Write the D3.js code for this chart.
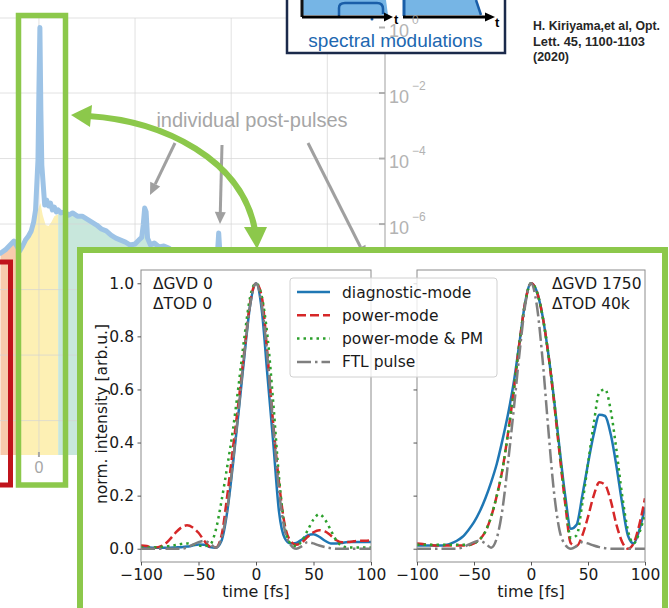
<!DOCTYPE html>
<html><head><meta charset="utf-8">
<script src="https://cdn.jsdelivr.net/npm/d3@7"></script>
<style>body{margin:0;background:#fff;} svg{display:block;}</style>
</head><body>
<svg id="c" width="669" height="608"></svg>
<script>
// ===== Background (log) trace =====
const bgTime = [-4.0,-3.5,-3.0,-2.6,-2.3,-2.0,-1.7,-1.4,-1.1,-0.8,-0.55,-0.35,-0.2,-0.1,0.0,0.1,0.2,0.3,0.45,0.6,0.8,1.0,1.2,1.4,1.6,1.8,2.0,2.3,2.7,3.1,3.5,4.0,4.5,5.0,5.5,6.0,6.5,7.0,7.5,8.0,8.5,9.0,9.5,10.0,10.4,10.7,10.85,11.0,11.15,11.3,11.6,12.0,12.5,13.0,13.5,14.0,14.5,15.0,16,17,18,18.55,18.7,18.85,19.2,20,22,24,26,28,30,32,34,36];
const bgLog = [-6.89,-6.79,-6.64,-6.52,-6.67,-6.82,-6.67,-6.49,-6.37,-6.21,-5.94,-5.57,-4.66,-4.05,-1.9,0.0,-2.52,-4.2,-4.81,-5.42,-5.27,-5.45,-5.36,-5.57,-5.48,-5.63,-5.57,-5.66,-5.63,-5.73,-5.66,-5.76,-5.76,-5.85,-5.94,-6.03,-6.15,-6.21,-6.34,-6.43,-6.49,-6.55,-6.64,-6.61,-6.49,-6.40,-6.03,-5.51,-5.63,-6.43,-6.64,-6.58,-6.70,-6.67,-6.73,-6.85,-6.79,-6.95,-7.0,-7.05,-7.05,-7.0,-6.27,-7.0,-7.1,-7.1,-7.2,-7.25,-7.3,-7.35,-7.4,-7.45,-7.5,-7.55];
// fill envelope around the main pulse (t <= 2)
const envTime = [-4.0,-3.5,-3.0,-2.6,-2.3,-2.0,-1.7,-1.4,-1.1,-0.8,-0.5,-0.2,0.0,0.15,0.4,0.7,1.0,1.3,1.6,2.0];
const envLog = [-6.89,-6.79,-6.64,-6.52,-6.67,-6.82,-6.79,-6.61,-6.43,-6.27,-6.03,-5.63,-5.48,-5.36,-5.73,-6.03,-6.06,-5.94,-5.76,-5.69];
const regionBounds = [-4.05, -2.05, 2.0, 36];
const regionColors = ["#f8cbad", "#fdf0b4", "#c8e7dc"];
const bgYTickExp = [0, -2, -4, -6, -8, -10, -12];
const bgYLabelExp = [0, -2, -4, -6];
const bgXGrid = [0, 10, 20, 30];
const bgXTickLabels = ["0"];
const annotText = "individual post-pulses";

// ===== Inset: pulse shapes =====
const timeFs = [-100,-95,-90,-85,-80,-75,-70,-65,-60,-55,-50,-45,-40,-35,-30,-25,-20,-15,-10,-5,0,5,10,15,20,25,30,35,40,45,50,55,60,65,70,75,80,85,90,95,100];
const diagL  = [0.005,0.005,0.004,0.004,0.004,0.004,0.005,0.006,0.008,0.012,0.016,0.015,0.006,0.004,0.03,0.14,0.32,0.52,0.73,0.92,1.0,0.90,0.65,0.40,0.14,0.04,0.02,0.022,0.035,0.05,0.055,0.045,0.03,0.02,0.02,0.022,0.025,0.025,0.025,0.025,0.025];
const powerL = [0.012,0.01,0.004,0.006,0.015,0.035,0.06,0.08,0.088,0.08,0.06,0.03,0.008,0.005,0.05,0.2,0.38,0.56,0.75,0.93,1.0,0.95,0.73,0.47,0.25,0.09,0.03,0.015,0.025,0.045,0.062,0.07,0.065,0.05,0.032,0.024,0.025,0.028,0.03,0.03,0.032];
const pmL    = [0.005,0.005,0.005,0.006,0.008,0.01,0.014,0.018,0.02,0.016,0.012,0.01,0.015,0.07,0.18,0.31,0.45,0.62,0.8,0.95,1.0,0.95,0.8,0.55,0.27,0.08,0.02,0.01,0.03,0.07,0.11,0.13,0.11,0.07,0.03,0.01,0.005,0.005,0.005,0.005,0.005];
const ftl    = [0,0,0,0,0,0,0,0,0.005,0.015,0.025,0.03,0.02,0.004,0.04,0.15,0.33,0.53,0.74,0.92,1.0,0.92,0.72,0.46,0.22,0.07,0.015,0.0,0.01,0.025,0.02,0.012,0.006,0.002,0,0,0,0,0,0,0];
const diagR  = [0.012,0.012,0.012,0.012,0.012,0.014,0.02,0.03,0.045,0.07,0.10,0.14,0.19,0.25,0.32,0.41,0.51,0.63,0.78,0.93,1.0,0.97,0.88,0.74,0.57,0.38,0.2,0.075,0.09,0.2,0.32,0.43,0.505,0.5,0.43,0.31,0.17,0.05,0.02,0.07,0.155];
const powerR = [0.02,0.018,0.015,0.012,0.012,0.012,0.012,0.012,0.012,0.013,0.02,0.035,0.065,0.12,0.2,0.3,0.44,0.6,0.78,0.93,1.0,0.97,0.88,0.74,0.56,0.36,0.17,0.02,0.01,0.05,0.12,0.2,0.25,0.24,0.18,0.09,0.025,0.0,0.02,0.09,0.19];
const pmR    = [0.015,0.015,0.015,0.015,0.015,0.015,0.015,0.015,0.015,0.015,0.02,0.035,0.065,0.12,0.2,0.3,0.44,0.6,0.78,0.93,1.0,0.97,0.88,0.74,0.57,0.37,0.18,0.04,0.05,0.17,0.32,0.47,0.59,0.6,0.52,0.37,0.2,0.07,0.02,0.06,0.13];
const seriesNames = ["diagnostic-mode", "power-mode", "power-mode & PM", "FTL pulse"];
const yTickVals = [0.0, 0.2, 0.4, 0.6, 0.8, 1.0];
const xTickVals = [-100, -50, 0, 50, 100];
const panelNotes = [["ΔGVD 0", "ΔTOD 0"], ["ΔGVD 1750", "ΔTOD 40k"]];
const citation = ["H. Kiriyama,et al, Opt.", "Lett. 45, 1100-1103", "(2020)"];

// ===== styles =====
const seriesStyle = [
  {color: "#1f77b4", dash: null},
  {color: "#d62728", dash: "9,4"},
  {color: "#2ca02c", dash: "2.5,4"},
  {color: "#7f7f7f", dash: "14,4,2.5,4"}
];
const GREEN = "#8cc84b";
const GRAYTXT = "#a6a6a6";

const svg = d3.select("#c");
const defs = svg.append("defs");

// ---------- background chart ----------
const xBg = d3.scaleLinear().domain([-4.05, 36]).range([0, 385]);
const yBg = d3.scaleLog().domain([Math.pow(10, -13.05), Math.pow(10, 0.29)]).range([455, 18]);
const bgData = bgTime.map((t, i) => ({t, v: Math.pow(10, bgLog[i])}));
const envData = envTime.map((t, i) => ({t, v: Math.pow(10, envLog[i])}))
  .concat(bgData.filter(d => d.t > 2.0));

const area = d3.area().x(d => xBg(d.t)).y0(455).y1(d => yBg(d.v));
regionColors.forEach((c, i) => {
  const id = "clipR" + i;
  defs.append("clipPath").attr("id", id).append("rect")
    .attr("x", xBg(regionBounds[i])).attr("y", 0)
    .attr("width", xBg(regionBounds[i + 1]) - xBg(regionBounds[i])).attr("height", 455);
  svg.append("path").datum(envData).attr("d", area).attr("fill", c).attr("clip-path", `url(#${id})`);
});

// grid
const grid = svg.append("g").attr("stroke", "#d4d4d4").attr("stroke-opacity", 0.7).attr("stroke-width", 1);
bgXGrid.forEach(v => grid.append("line").attr("x1", xBg(v)).attr("x2", xBg(v)).attr("y1", 18).attr("y2", 455));
bgYTickExp.filter(e => e < 0).forEach(e => grid.append("line").attr("x1", 0).attr("x2", 385)
  .attr("y1", yBg(Math.pow(10, e))).attr("y2", yBg(Math.pow(10, e))));
grid.append("line").attr("x1", 0).attr("x2", 385).attr("y1", 18).attr("y2", 18);

// blue trace
svg.append("path").datum(bgData)
  .attr("d", d3.line().x(d => xBg(d.t)).y(d => yBg(d.v)))
  .attr("fill", "none").attr("stroke", "#9dc3e6").attr("stroke-width", 5)
  .attr("stroke-linejoin", "round").attr("stroke-linecap", "round");

// right log axis line
svg.append("line").attr("x1", 385).attr("x2", 385).attr("y1", 18).attr("y2", 455)
  .attr("stroke", "#bfbfbf").attr("stroke-width", 1.5);

// x tick "0"
bgXTickLabels.forEach((lab, i) => {
  const xv = xBg(+lab);
  svg.append("line").attr("x1", xv).attr("x2", xv).attr("y1", 452).attr("y2", 457)
    .attr("stroke", GRAYTXT).attr("stroke-width", 2);
  svg.append("text").attr("x", xv).attr("y", 473).attr("text-anchor", "middle")
    .attr("font-family", "Liberation Sans, Arial, sans-serif").attr("font-size", 16)
    .attr("fill", GRAYTXT).text(lab);
});

// red box and narrow green box
svg.append("rect").attr("x", -10).attr("y", 262).attr("width", 20.5).attr("height", 223)
  .attr("fill", "none").attr("stroke", "#c0141c").attr("stroke-width", 5);
svg.append("rect").attr("x", 18.5).attr("y", 15.5).attr("width", 47).attr("height", 469.5)
  .attr("fill", "none").attr("stroke", GREEN).attr("stroke-width", 5.5);

// annotation text + gray arrows
svg.append("text").attr("x", 252).attr("y", 127).attr("text-anchor", "middle")
  .attr("font-family", "Liberation Sans, Arial, sans-serif").attr("font-size", 20)
  .attr("fill", GRAYTXT).text(annotText);

function arrow(x1, y1, x2, y2, color, w, hl, hw) {
  const a = Math.atan2(y2 - y1, x2 - x1);
  const bx = x2 - hl * Math.cos(a), by = y2 - hl * Math.sin(a);
  svg.append("line").attr("x1", x1).attr("y1", y1).attr("x2", bx).attr("y2", by)
    .attr("stroke", color).attr("stroke-width", w);
  const px = -Math.sin(a) * hw / 2, py = Math.cos(a) * hw / 2;
  svg.append("polygon").attr("points", `${x2},${y2} ${bx + px},${by + py} ${bx - px},${by - py}`)
    .attr("fill", color);
}
arrow(175, 143, 150, 195, "#a0a0a0", 3, 12, 11);
arrow(222, 145, 220, 224, "#a0a0a0", 3, 12, 11);
arrow(308, 143, 366, 258, "#a0a0a0", 3, 12, 11);

// curved double-headed green arrow
svg.append("path").attr("d", "M 88,116 C 165,121 242,160 255,230")
  .attr("fill", "none").attr("stroke", GREEN).attr("stroke-width", 6);
svg.append("polygon").attr("points", "71,115 92,105 90,127").attr("fill", GREEN);
svg.append("polygon").attr("points", "257,249 244,227 267,227").attr("fill", GREEN);

// ---------- top illustration box ----------
svg.append("rect").attr("x", 287).attr("y", -6).attr("width", 218).attr("height", 59)
  .attr("fill", "#fff").attr("stroke", "#1b2a4b").attr("stroke-width", 2.5);
svg.append("path").attr("d", "M302,0 L386,0 L388,15 L302,15 Z").attr("fill", "#76b5e5");
svg.append("path").attr("d", "M339,16 L339,8 Q339,3 345,3 L377,3 Q383,3 383,9 L383,14")
  .attr("fill", "none").attr("stroke", "#1a5ea8").attr("stroke-width", 2.5);
svg.append("line").attr("x1", 302).attr("x2", 302).attr("y1", 0).attr("y2", 17).attr("stroke", "#111").attr("stroke-width", 3);
svg.append("circle").attr("cx", 372).attr("cy", 19).attr("r", 1.5).attr("fill", "#1a5ea8");
svg.append("path").attr("d", "M403,0 L476,0 L481,15 L403,15 Z").attr("fill", "#76b5e5");
svg.append("line").attr("x1", 404).attr("x2", 404).attr("y1", 0).attr("y2", 16).attr("stroke", "#1a5ea8").attr("stroke-width", 3);
svg.append("line").attr("x1", 476).attr("x2", 481).attr("y1", 0).attr("y2", 15).attr("stroke", "#1a5ea8").attr("stroke-width", 2.5);
[[302, 386, 393], [403, 487, 495]].forEach(([a, b, tip]) => {
  svg.append("line").attr("x1", a).attr("x2", b).attr("y1", 17).attr("y2", 17).attr("stroke", "#000").attr("stroke-width", 3);
  svg.append("polygon").attr("points", `${b - 2},12.5 ${tip},17 ${b - 2},21.5`).attr("fill", "#000");
});
svg.append("text").attr("x", 394).attr("y", 23.5).attr("font-family", "Liberation Sans, Arial").attr("font-weight", "bold")
  .attr("font-size", 13).text("t");
svg.append("text").attr("x", 495).attr("y", 27).attr("font-family", "Liberation Sans, Arial").attr("font-weight", "bold")
  .attr("font-size", 13).text("t");
svg.append("text").attr("x", 395.5).attr("y", 47).attr("text-anchor", "middle")
  .attr("font-family", "Liberation Sans, Arial, sans-serif").attr("font-size", 19)
  .attr("fill", "#2067b0").text("spectral modulations");

// log axis ticks & labels (drawn over the box)
const fmtExp = e => (e < 0 ? "\u2212" + (-e) : String(e));
bgYTickExp.forEach(e => {
  const yv = yBg(Math.pow(10, e));
  svg.append("line").attr("x1", 379).attr("x2", 385).attr("y1", yv).attr("y2", yv)
    .attr("stroke", GRAYTXT).attr("stroke-width", 2).attr("opacity", 0.85);
});
bgYLabelExp.forEach(e => {
  const yv = yBg(Math.pow(10, e));
  const t = svg.append("g").attr("fill", GRAYTXT).attr("opacity", 0.85)
    .attr("font-family", "Liberation Sans, Arial, sans-serif");
  t.append("text").attr("x", 389).attr("y", yv + 9.5).attr("font-size", 18).text("10");
  t.append("text").attr("x", 412).attr("y", yv - 3.5).attr("font-size", 12).text(fmtExp(e));
});

// citation
citation.forEach((s, i) => {
  svg.append("text").attr("x", 533).attr("y", [30, 45.5, 60.5][i])
    .attr("font-family", "Liberation Sans Narrow, Liberation Sans, Arial").attr("font-weight", "bold")
    .attr("font-size", 12.5).attr("fill", "#262626")
    .attr("textLength", [127, 112, 36][i]).attr("lengthAdjust", "spacingAndGlyphs").text(s);
});

// ---------- inset ----------
svg.append("rect").attr("x", 80).attr("y", 250).attr("width", 585).attr("height", 400)
  .attr("fill", "#fff").attr("stroke", GREEN).attr("stroke-width", 6);

const FONT = "DejaVu Sans, Verdana, sans-serif";
const yIn = d3.scaleLinear().domain([-0.05, 1.05]).range([562, 270]);
function panel(idx, x0, x1, data, showY) {
  const x = d3.scaleLinear().domain([-100, 100]).range([x0, x1]);
  const g = svg.append("g");
  const cid = "pclip" + idx;
  defs.append("clipPath").attr("id", cid).append("rect")
    .attr("x", x0).attr("y", 270).attr("width", x1 - x0).attr("height", 292);
  const line = d3.line().curve(d3.curveMonotoneX).x(d => x(d[0])).y(d => yIn(d[1]));
  data.forEach((vals, k) => {
    const st = seriesStyle[k];
    g.append("path").datum(timeFs.map((t, i) => [t, vals[i]]))
      .attr("d", line).attr("fill", "none").attr("stroke", st.color)
      .attr("stroke-width", 2.5).attr("stroke-dasharray", st.dash)
      .attr("clip-path", `url(#${cid})`);
  });
  g.append("rect").attr("x", x0).attr("y", 270).attr("width", x1 - x0).attr("height", 292)
    .attr("fill", "none").attr("stroke", "#8c8c8c").attr("stroke-width", 1);
  const ya = g.append("g").attr("transform", `translate(${x0},0)`)
    .call(d3.axisLeft(yIn).tickValues(yTickVals).tickSize(3.5).tickPadding(3.5)
      .tickFormat(showY ? d3.format(".1f") : () => ""));
  const xa = g.append("g").attr("transform", "translate(0,562)")
    .call(d3.axisBottom(x).tickValues(xTickVals).tickSize(3.5).tickPadding(3));
  [ya, xa].forEach(a => {
    a.select(".domain").remove();
    a.selectAll("line").attr("stroke", "#555");
    a.selectAll("text").attr("font-family", FONT).attr("font-size", 15.5).attr("fill", "#1a1a1a");
  });
  g.append("text").attr("x", (x0 + x1) / 2).attr("y", 597).attr("text-anchor", "middle")
    .attr("font-family", FONT).attr("font-size", 16).attr("fill", "#1a1a1a").text("time [fs]");
  const note = panelNotes[idx];
  const nx = idx === 0 ? 153 : 552;
  note.forEach((s, j) => g.append("text").attr("x", nx).attr("y", 288.5 + j * 20)
    .attr("font-family", FONT).attr("font-size", 15.5).attr("fill", "#1a1a1a").text(s));
  return g;
}
panel(0, 141, 371, [diagL, powerL, pmL, ftl], true);
panel(1, 417, 645, [diagR, powerR, pmR, ftl], false);
svg.append("text").attr("transform", "translate(107,414) rotate(-90)").attr("text-anchor", "middle")
  .attr("font-family", FONT).attr("font-size", 15.5).attr("fill", "#1a1a1a").text("norm. intensity [arb.u.]");

// legend
const lg = svg.append("g");
lg.append("rect").attr("x", 290).attr("y", 278).attr("width", 207).attr("height", 99).attr("rx", 3)
  .attr("fill", "#fff").attr("fill-opacity", 0.8).attr("stroke", "#d0d0d0");
seriesNames.forEach((name, k) => {
  const yy = 292 + k * 23.3;
  const st = seriesStyle[k];
  lg.append("line").attr("x1", 297).attr("x2", 330).attr("y1", yy).attr("y2", yy)
    .attr("stroke", st.color).attr("stroke-width", 2.5).attr("stroke-dasharray", st.dash);
  lg.append("text").attr("x", 342).attr("y", yy + 5.5).attr("font-family", FONT)
    .attr("font-size", 15.5).attr("fill", "#1a1a1a").text(name);
});
</script>
</body></html>
